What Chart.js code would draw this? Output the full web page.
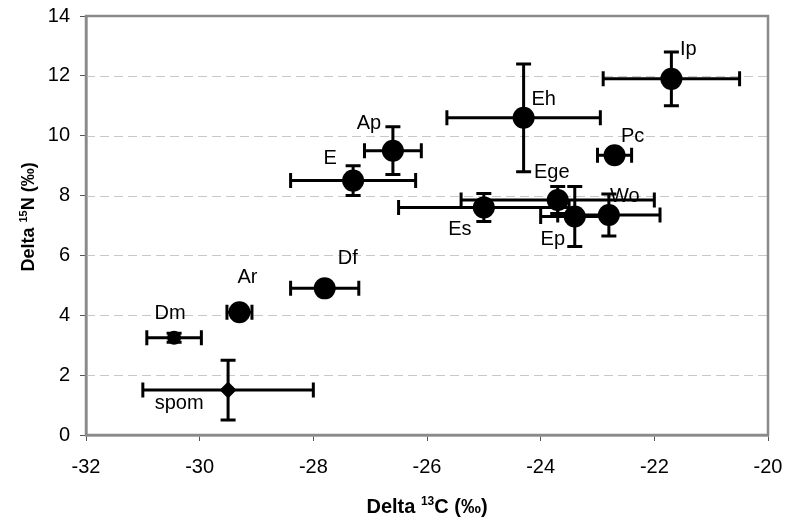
<!DOCTYPE html>
<html lang="en">
<head>
  <meta charset="UTF-8" />
  <title>Delta 13C vs Delta 15N</title>
  <script src="https://cdn.jsdelivr.net/npm/chart.js"></script>
  <style>
    html, body { margin: 0; padding: 0; background: #fff; }
    #wrap { width: 786px; height: 520px; }
  </style>
</head>
<body>
  <div id="wrap"><canvas id="isoChart" width="786" height="520"></canvas></div>

  <script>
    // values
    const taxa   = ['Dm', 'Ar', 'Df', 'spom', 'E', 'Ap', 'Eh', 'Ip', 'Pc', 'Es', 'Ege', 'Ep', 'Wo'];
    const d13C   = [-30.45, -29.3, -27.8, -29.5, -27.3, -26.6, -24.3, -21.7, -22.7, -25.0, -23.7, -23.4, -22.8];
    const d15N   = [3.25, 4.1, 4.9, 1.5, 8.5, 9.5, 10.6, 11.9, 9.35, 7.6, 7.85, 7.3, 7.35];
    const sdC    = [0.48, 0.22, 0.6, 1.5, 1.1, 0.5, 1.35, 1.2, 0.3, 1.5, 1.7, 0.6, 0.9];
    const sdN    = [0.15, 0.15, 0.2, 1.0, 0.5, 0.8, 1.8, 0.9, 0.15, 0.47, 0.45, 1.0, 0.7];
    const xTicks = [-32, -30, -28, -26, -24, -22, -20];
    const yTicks = [0, 2, 4, 6, 8, 10, 12, 14];

    // where each label sits relative to its point (px)
    const labelOffset = {
      Dm: [-4, -24], Ar: [8, -35], Df: [23, -30], spom: [-49, 13],
      E: [-23, -22], Ap: [-24, -27], Eh: [20, -18], Ip: [17, -29],
      Pc: [18, -19], Es: [-24, 22], Ege: [-6, -28], Ep: [-22, 23], Wo: [16, -19]
    };

    const FONT = '"Liberation Sans", Arial, sans-serif';

    const points = taxa.map((t, i) => ({ x: d13C[i], y: d15N[i] }));

    const errorBars = {
      id: 'errorBars',
      beforeDatasetsDraw(chart) {
        const { ctx, scales: { x, y }, chartArea } = chart;
        ctx.save();
        // dashed horizontal gridlines
        ctx.strokeStyle = '#c8c8c8';
        ctx.lineWidth = 1;
        ctx.setLineDash([9, 5]);
        yTicks.slice(1, -1).forEach(v => {
          const py = Math.round(y.getPixelForValue(v)) + 0.5;
          ctx.beginPath();
          ctx.moveTo(chartArea.left, py);
          ctx.lineTo(chartArea.right, py);
          ctx.stroke();
        });
        ctx.setLineDash([]);
        // frame
        ctx.strokeStyle = '#8a8a8a';
        ctx.lineWidth = 2.5;
        ctx.strokeRect(chartArea.left, chartArea.top, chartArea.right - chartArea.left, chartArea.bottom - chartArea.top);

        // error bars
        ctx.strokeStyle = '#000';
        ctx.lineWidth = 3;
        const cap = 7.5;
        taxa.forEach((t, i) => {
          const px = x.getPixelForValue(d13C[i]);
          const py = y.getPixelForValue(d15N[i]);
          const xl = x.getPixelForValue(d13C[i] - sdC[i]);
          const xr = x.getPixelForValue(d13C[i] + sdC[i]);
          const yt = y.getPixelForValue(d15N[i] + sdN[i]);
          const yb = y.getPixelForValue(d15N[i] - sdN[i]);
          ctx.beginPath();
          ctx.moveTo(xl, py); ctx.lineTo(xr, py);
          ctx.moveTo(xl, py - cap); ctx.lineTo(xl, py + cap);
          ctx.moveTo(xr, py - cap); ctx.lineTo(xr, py + cap);
          ctx.moveTo(px, yt); ctx.lineTo(px, yb);
          ctx.moveTo(px - cap, yt); ctx.lineTo(px + cap, yt);
          ctx.moveTo(px - cap, yb); ctx.lineTo(px + cap, yb);
          ctx.stroke();
        });
        ctx.restore();
      },
      afterDatasetsDraw(chart) {
        const { ctx, scales: { x, y }, chartArea } = chart;
        ctx.save();
        ctx.fillStyle = '#000';
        ctx.font = '20px ' + FONT;
        ctx.textAlign = 'center';
        ctx.textBaseline = 'middle';
        taxa.forEach((t, i) => {
          const off = labelOffset[t];
          ctx.fillText(t, x.getPixelForValue(d13C[i]) + off[0], y.getPixelForValue(d15N[i]) + off[1]);
        });

        // axis titles with superscripts
        const drawTitle = (parts, cx, cy, size) => {
          const big = 'bold ' + size + 'px ' + FONT, small = 'bold ' + Math.round(size * 0.62) + 'px ' + FONT;
          let w = 0;
          parts.forEach(p => { ctx.font = p.sup ? small : big; w += ctx.measureText(p.t).width; });
          let cur = cx - w / 2;
          ctx.textAlign = 'left';
          ctx.textBaseline = 'alphabetic';
          parts.forEach(p => {
            ctx.font = p.sup ? small : big;
            ctx.fillText(p.t, cur, cy + (p.sup ? -Math.round(size * 0.4) : 0));
            cur += ctx.measureText(p.t).width;
          });
        };
        const xParts = [{ t: 'Delta ' }, { t: '13', sup: true }, { t: 'C (‰)' }];
        const yParts = [{ t: 'Delta ' }, { t: '15', sup: true }, { t: 'N (‰)' }];
        drawTitle(xParts, 427, 513, 20);
        ctx.save();
        ctx.translate(34, 217);
        ctx.rotate(-Math.PI / 2);
        drawTitle(yParts, 0, 0, 18);
        ctx.restore();
        ctx.restore();
      }
    };

    new Chart(document.getElementById('isoChart'), {
      type: 'scatter',
      data: {
        datasets: [{
          label: 'taxa',
          data: points,
          backgroundColor: '#000',
          borderColor: '#000',
          borderWidth: 0,
          pointStyle: ctx => (taxa[ctx.dataIndex] === 'spom' ? 'rectRot' : 'circle'),
          pointRadius: ctx => {
            const t = taxa[ctx.dataIndex];
            if (t === 'Dm') return 7;
            if (t === 'spom') return 8.5;
            return 11;
          },
          pointHoverRadius: 11
        }]
      },
      plugins: [errorBars],
      options: {
        responsive: false,
        animation: false,
        events: [],
        layout: { padding: { left: 0, top: 16, right: 18, bottom: 0 } },
        plugins: { legend: { display: false }, tooltip: { enabled: false } },
        scales: {
          x: {
            type: 'linear',
            min: -32, max: -20,
            afterFit: s => { s.height = 85; s.paddingLeft = 0; s.paddingRight = 0; },
            afterBuildTicks: s => { s.ticks = xTicks.map(v => ({ value: v })); },
            grid: { drawOnChartArea: false, drawTicks: true, tickLength: 6, color: '#555' },
            border: { display: true, color: '#777', width: 2.5 },
            ticks: { color: '#000', font: { family: FONT, size: 20 }, padding: 14, maxRotation: 0 }
          },
          y: {
            type: 'linear',
            min: 0, max: 14,
            afterFit: s => { s.width = 86; s.paddingTop = 0; s.paddingBottom = 0; },
            afterBuildTicks: s => { s.ticks = yTicks.map(v => ({ value: v })); },
            grid: { drawOnChartArea: false, drawTicks: true, tickLength: 6, color: '#555' },
            border: { display: true, color: '#777', width: 2.5 },
            ticks: { color: '#000', font: { family: FONT, size: 20 }, padding: 10 }
          }
        }
      }
    });
  </script>
</body>
</html>
